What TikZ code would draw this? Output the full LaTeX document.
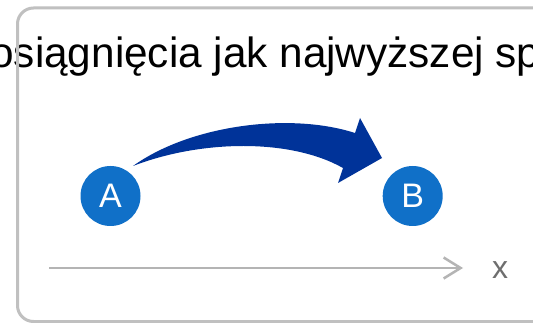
\documentclass[tikz,border=0pt]{standalone}
\usepackage{fontspec}
\setmainfont{Liberation Sans}
\usetikzlibrary{arrows.meta}
\definecolor{framegray}{HTML}{C0C0C0}
\definecolor{axisgray}{HTML}{B4B4B4}
\definecolor{labelgray}{HTML}{6E6E6E}
\definecolor{dotblue}{HTML}{1070C8}
\definecolor{arrowblue}{HTML}{003399}
\tikzset{
  pointdot/.style={circle, fill=dotblue, minimum size=60pt, inner sep=0pt,
    text=white, font=\fontsize{34}{40}\selectfont},
  titletext/.style={anchor=base west, inner sep=0pt, font=\fontsize{42.3}{50}\selectfont},
  axisline/.style={draw=axisgray, line width=2.5pt,
    -{Straight Barb[length=17pt, width=21pt, line width=2.5pt]}},
  axislabel/.style={anchor=base, inner sep=0pt, text=labelgray,
    font=\fontsize{32}{38}\selectfont},
  panel/.style={draw=framegray, line width=3pt, rounded corners=16pt},
  bigarrow/.style={fill=arrowblue}
}
\begin{document}
\begin{tikzpicture}[x=1pt, y=-1pt]
  \useasboundingbox (0,0) rectangle (533,323);
  \fill[white] (0,0) rectangle (533,323);

  % heading, running past both edges
  \node[titletext] (title) at (-9.8,68) {osiągnięcia jak najwyższej sp};

  % panel outline
  \draw[panel] (17.5,8) rectangle (570,321.5);

  % the two points
  \node[pointdot] (A) at (110.5,196) {A};
  \node[pointdot] (B) at (412.7,196) {B};

  % curved block arrow from A towards B
  \fill[bigarrow] (133,166)
    .. controls (190,125) and (290,112) .. (355,133)
    -- (360,118) -- (382,158) -- (338,183) -- (343,168)
    .. controls (290,138) and (200,140) .. (133,166) -- cycle;

  % x axis
  \coordinate (ax0) at (49,268);
  \coordinate (ax1) at (463,268);
  \draw[axisline] (ax0) -- (ax1);
  \node[axislabel] (xl) at (500,279) {x};
\end{tikzpicture}
\end{document}
